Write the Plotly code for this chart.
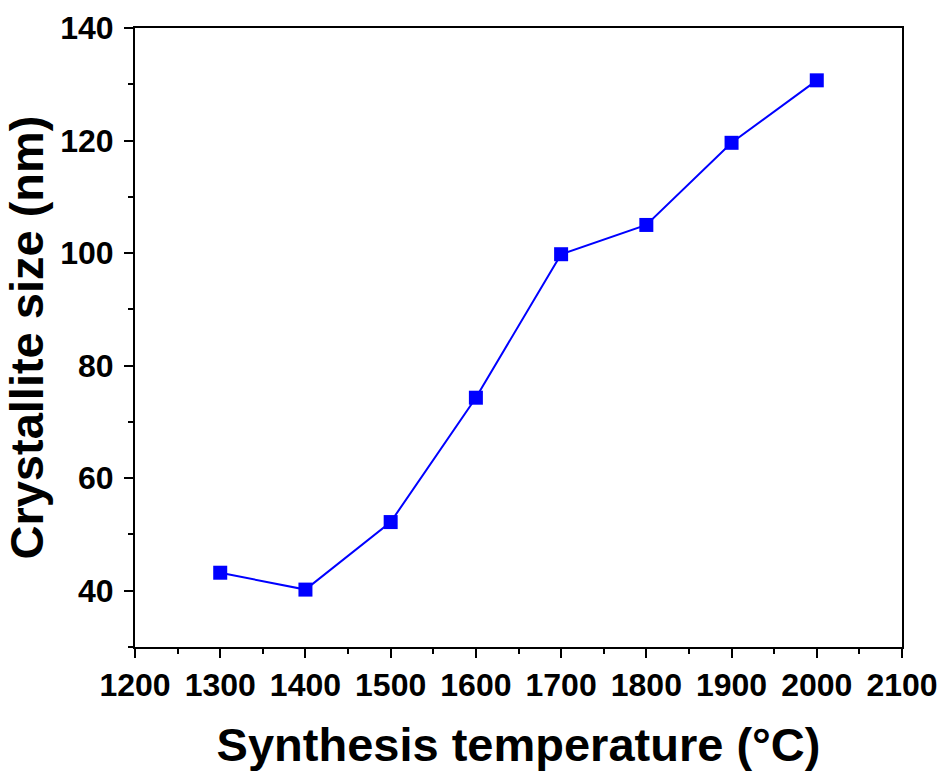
import plotly.graph_objects as go

temperature = [1300, 1400, 1500, 1600, 1700, 1800, 1900, 2000]
crystallite_size = [43.2, 40.2, 52.2, 74.3, 99.8, 105.0, 119.6, 130.7]

x_ticks = [1200, 1300, 1400, 1500, 1600, 1700, 1800, 1900, 2000, 2100]
y_ticks = [40, 60, 80, 100, 120, 140]

font_family = "Liberation Sans, Arial, sans-serif"

fig = go.Figure()
fig.add_trace(go.Scatter(
    x=temperature, y=crystallite_size, mode="lines+markers",
    line=dict(color="#0000FF", width=2),
    marker=dict(symbol="square", size=14, color="#0000FF"),
    showlegend=False,
))

fig.update_layout(
    width=938, height=771,
    margin=dict(l=135, r=36, t=28, b=124),
    paper_bgcolor="white", plot_bgcolor="white",
    font=dict(family=font_family, color="black"),
)

fig.update_xaxes(
    range=[1200, 2100], tickvals=x_ticks, automargin=False,
    showline=True, linecolor="black", linewidth=2, mirror=True,
    ticks="outside", ticklen=9, tickwidth=2, tickcolor="black",
    minor=dict(ticks="outside", ticklen=5, tickwidth=2, tickcolor="black", dtick=50, showgrid=False),
    showgrid=False, zeroline=False,
    tickfont=dict(size=32, family=font_family, weight="bold"),
    title=dict(text="<b>Synthesis temperature (°C)</b>", font=dict(size=47, family=font_family), standoff=26),
)
fig.update_yaxes(
    range=[30, 140], tickvals=y_ticks, automargin=False,
    showline=True, linecolor="black", linewidth=2, mirror=True,
    ticks="outside", ticklen=9, tickwidth=2, tickcolor="black",
    minor=dict(ticks="outside", ticklen=5, tickwidth=2, tickcolor="black", dtick=10, showgrid=False),
    showgrid=False, zeroline=False, ticklabelstandoff=4,
    tickfont=dict(size=32, family=font_family, weight="bold"),
    title=dict(text="<b>Crystallite size (nm)</b>", font=dict(size=47, family=font_family), standoff=8),
)

fig.write_html("out.html")
